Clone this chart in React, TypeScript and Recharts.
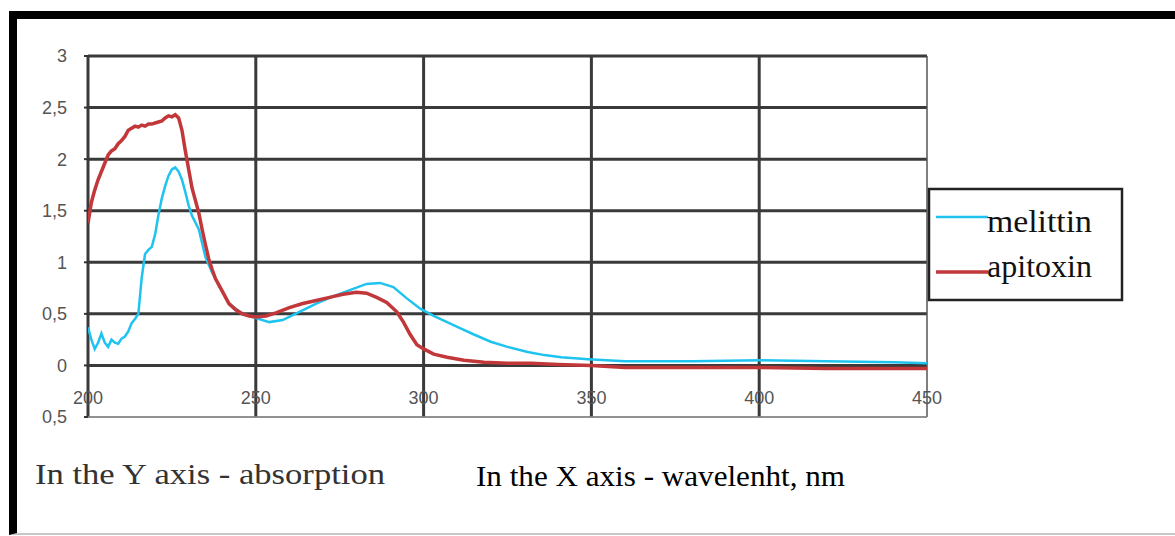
import React from "react";
import { LineChart, Line, XAxis, YAxis, CartesianGrid } from "recharts";

// ---- data ----
const melittinNm = [200, 201, 202, 203, 204, 205, 206, 207, 208, 209, 210, 211, 212, 213, 214, 215, 216, 217, 218, 219, 220, 221, 222, 223, 224, 225, 226, 227, 228, 229, 230, 231, 233, 235, 237, 239, 242, 246, 250, 254, 258, 263, 268, 273, 278, 283, 287, 291, 295, 299, 303, 307, 311, 315, 320, 325, 331, 336, 341, 349, 360, 380, 400, 420, 440, 450];
const melittinAbs = [0.37, 0.25, 0.16, 0.22, 0.31, 0.22, 0.18, 0.25, 0.22, 0.21, 0.26, 0.28, 0.33, 0.41, 0.45, 0.5, 0.85, 1.08, 1.12, 1.15, 1.27, 1.46, 1.62, 1.74, 1.84, 1.9, 1.92, 1.88, 1.8, 1.68, 1.55, 1.45, 1.32, 1.05, 0.9, 0.78, 0.6, 0.5, 0.46, 0.42, 0.44, 0.52, 0.6, 0.67, 0.73, 0.79, 0.8, 0.76, 0.65, 0.55, 0.48, 0.42, 0.36, 0.3, 0.23, 0.18, 0.13, 0.1, 0.08, 0.06, 0.04, 0.04, 0.05, 0.04, 0.03, 0.02];

const apitoxinNm = [200, 201, 202, 203, 204, 205, 206, 207, 208, 209, 210, 211, 212, 213, 214, 215, 216, 217, 218, 219, 220, 221, 222, 223, 224, 225, 226, 227, 228, 229, 230, 231, 232, 233, 234, 235, 236, 237, 238, 240, 242, 244, 246, 248, 250, 253, 256, 260, 264, 268, 272, 276, 280, 283, 286, 289, 292, 294, 296, 298, 300, 303, 307, 312, 318, 325, 332, 340, 350, 360, 380, 400, 420, 450];
const apitoxinAbs = [1.38, 1.58, 1.7, 1.8, 1.88, 1.96, 2.04, 2.08, 2.1, 2.15, 2.18, 2.22, 2.28, 2.3, 2.32, 2.31, 2.33, 2.32, 2.34, 2.34, 2.35, 2.36, 2.37, 2.4, 2.42, 2.41, 2.43, 2.4, 2.28, 2.08, 1.9, 1.72, 1.6, 1.48, 1.32, 1.17, 1.03, 0.93, 0.84, 0.72, 0.6, 0.54, 0.5, 0.48, 0.47, 0.48, 0.51, 0.56, 0.6, 0.63, 0.66, 0.69, 0.71, 0.7, 0.66, 0.61, 0.52, 0.42, 0.3, 0.2, 0.16, 0.11, 0.08, 0.05, 0.03, 0.02, 0.02, 0.01, 0.0, -0.02, -0.02, -0.02, -0.03, -0.03];

const xTicks = [200, 250, 300, 350, 400, 450];
const yTicks = [-0.5, 0, 0.5, 1, 1.5, 2, 2.5, 3];
const yTickLabels = ["0,5", "0", "0,5", "1", "1,5", "2", "2,5", "3"];

const seriesNames = ["melittin", "apitoxin"];
const seriesColors = ["#1fc3ef", "#c1373a"];

const axisTitles = ["In the Y axis - absorption", "In the X axis - wavelenht, nm"];

const melittinData = melittinNm.map((nm, i) => ({ nm, v: melittinAbs[i] }));
const apitoxinData = apitoxinNm.map((nm, i) => ({ nm, v: apitoxinAbs[i] }));

const GRID_DARK = "#3a3a3a";

const XTick = (props: any) => {
  const { x, y, payload } = props;
  return (
    <text x={x} y={y - 13} textAnchor="middle" fill="#555" fontSize={18} fontFamily="'Liberation Sans', Arial, sans-serif">
      {payload.value}
    </text>
  );
};

const HLine = (props: any) => {
  const { x1, x2, y1, y2, y, height } = props;
  const isBottom = Math.abs(y1 - (y + height)) < 1.5;
  return (
    <line x1={x1} x2={x2} y1={y1} y2={y2} stroke={isBottom ? "#8a8a8a" : GRID_DARK} strokeWidth={isBottom ? 1.5 : 3} />
  );
};

const VLine = (props: any) => {
  const { x1, x2, y1, y2, x, width } = props;
  const isRight = Math.abs(x1 - (x + width)) < 1.5;
  return (
    <line x1={x1} x2={x2} y1={y1} y2={y2} stroke={isRight ? "#555" : GRID_DARK} strokeWidth={isRight ? 1.5 : 3} />
  );
};

export default function App() {
  return (
    <div style={{ position: "absolute", left: 0, top: 0, width: 1175, height: 536, background: "#fff", overflow: "hidden" }}>
      {/* outer frame */}
      <div
        style={{
          position: "absolute",
          left: 9,
          top: 11,
          width: 1175,
          height: 514,
          borderLeft: "8px solid #000",
          borderTop: "8px solid #000",
          borderBottom: "2px solid #c8c8c8",
        }}
      />
      <div style={{ position: "absolute", left: 0, top: 0 }}>
        <LineChart width={1175} height={536} margin={{ top: 56, right: 248, bottom: 89, left: 0 }}>
          <CartesianGrid horizontal={HLine as any} vertical={VLine as any} stroke={GRID_DARK} />
          <XAxis
            dataKey="nm"
            type="number"
            domain={[200, 450]}
            ticks={xTicks}
            allowDataOverflow
            height={30}
            axisLine={{ stroke: "#8a8a8a", strokeWidth: 1.5 }}
            tickLine={false}
            tickSize={0}
            tickMargin={0}
            tick={<XTick />}
            interval={0}
          />
          <YAxis
            type="number"
            domain={[-0.5, 3]}
            ticks={yTicks}
            allowDataOverflow
            width={88}
            axisLine={false}
            tickLine={{ stroke: "#333", strokeWidth: 2 }}
            tickSize={4}
            tickMargin={17}
            interval={0}
            tick={{ fill: "#555", fontSize: 18, fontFamily: "'Liberation Sans', Arial, sans-serif" }}
            tickFormatter={(v: number) => yTickLabels[yTicks.indexOf(v)] ?? String(v)}
          />
          <Line
            data={melittinData}
            dataKey="v"
            name={seriesNames[0]}
            type="linear"
            stroke={seriesColors[0]}
            strokeWidth={2.5}
            dot={false}
            activeDot={false}
            isAnimationActive={false}
          />
          <Line
            data={apitoxinData}
            dataKey="v"
            name={seriesNames[1]}
            type="linear"
            stroke={seriesColors[1]}
            strokeWidth={3.5}
            dot={false}
            activeDot={false}
            isAnimationActive={false}
          />
        </LineChart>
      </div>
      {/* legend */}
      <svg style={{ position: "absolute", left: 0, top: 0 }} width={1175} height={536}>
        <rect x={929} y={189} width={193} height={111} fill="#fff" stroke="#222" strokeWidth={2.5} />
        <line x1={936} x2={988} y1={217} y2={217} stroke={seriesColors[0]} strokeWidth={2.5} />
        <text x={987} y={232} fontSize={32} fontFamily="'Liberation Serif', 'Times New Roman', serif" fill="#111" textLength={105} lengthAdjust="spacingAndGlyphs">
          {seriesNames[0]}
        </text>
        <line x1={936} x2={988} y1={272} y2={272} stroke={seriesColors[1]} strokeWidth={3.5} />
        <text x={987} y={277} fontSize={32} fontFamily="'Liberation Serif', 'Times New Roman', serif" fill="#111" textLength={105} lengthAdjust="spacingAndGlyphs">
          {seriesNames[1]}
        </text>
        {/* axis descriptions */}
        <text x={35} y={484} fontSize={30} fontFamily="'Liberation Serif', 'Times New Roman', serif" fill="#333" textLength={350} lengthAdjust="spacingAndGlyphs">
          {axisTitles[0]}
        </text>
        <text x={476} y={486} fontSize={29} fontFamily="'Liberation Serif', 'Times New Roman', serif" fill="#000" textLength={369} lengthAdjust="spacingAndGlyphs">
          {axisTitles[1]}
        </text>
      </svg>
    </div>
  );
}
